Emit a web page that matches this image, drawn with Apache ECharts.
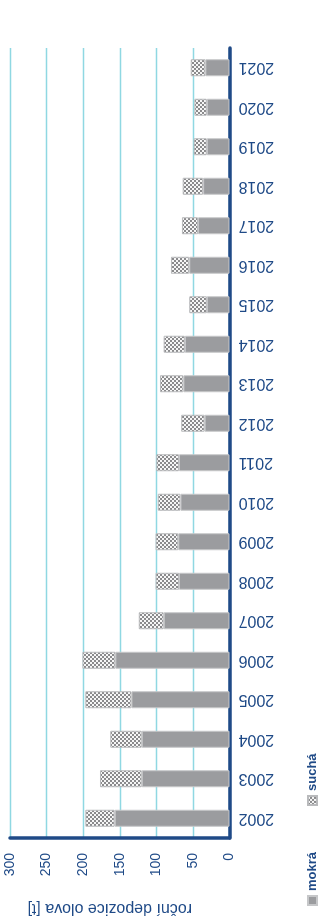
<!DOCTYPE html>
<html>
<head>
<meta charset="utf-8">
<script src="https://cdn.jsdelivr.net/npm/echarts@6/dist/echarts.min.js"></script>
<style>
  html, body { margin: 0; padding: 0; background: #fff; overflow: hidden; }
  body { width: 323px; height: 924px; position: relative; }
  /* the figure is a column chart turned a quarter turn counter-clockwise */
  #chart {
    position: absolute; left: 0; top: 0;
    width: 924px; height: 323px;
    transform-origin: 0 0;
    transform: translate(0, 924px) rotate(-90deg);
  }
</style>
</head>
<body>
<div id="chart"></div>
<script>
var years = ['2002', '2003', '2004', '2005', '2006', '2007', '2008', '2009', '2010', '2011',
             '2012', '2013', '2014', '2015', '2016', '2017', '2018', '2019', '2020', '2021'];
// wet deposition [t]
var mokra = [157, 120, 120, 134, 156, 90, 69, 70, 67, 69, 34, 63, 61, 31, 55, 43, 36, 31, 31, 33];
// dry deposition [t]
var sucha = [40, 57, 43, 63, 45, 34, 32, 31, 31, 31, 32, 32, 29, 24, 25, 22, 28, 18, 17, 20];
var valueTicks = [0, 50, 100, 150, 200, 250, 300];

var blue = '#1f4a87';
var gray = '#9b9c9f';

// small checker tile for the "suchá" fill
var tile = document.createElement('canvas');
tile.width = 4;
tile.height = 4;
var tctx = tile.getContext('2d');
tctx.fillStyle = '#f6f6f6';
tctx.fillRect(0, 0, 4, 4);
tctx.fillStyle = '#8a8a8c';
tctx.fillRect(0, 0, 2, 2);
tctx.fillRect(2, 2, 2, 2);

var chart = echarts.init(document.getElementById('chart'), null, { renderer: 'canvas' });

chart.setOption({
    animation: false,
    textStyle: { fontFamily: 'Liberation Sans, Arial, sans-serif' },
    grid: { left: 73, right: 48, top: 10, bottom: 93.5, containLabel: false },
    legend: {
        left: 13,
        top: 301,
        itemWidth: 9,
        itemHeight: 9,
        itemGap: 46,
        icon: 'rect',
        textStyle: { color: blue, fontSize: 13, fontWeight: 'bold' },
        data: ['mokrá', 'suchá']
    },
    xAxis: {
        type: 'category',
        data: years,
        axisLine: { show: true, lineStyle: { color: blue, width: 3.5 } },
        axisTick: { show: false },
        axisLabel: { rotate: 90, margin: 9, color: blue, fontSize: 16 },
        splitLine: { show: false }
    },
    yAxis: {
        type: 'value',
        min: valueTicks[0],
        max: valueTicks[valueTicks.length - 1],
        interval: 50,
        name: 'roční depozice olova [t]',
        nameLocation: 'middle',
        nameRotate: 90,
        nameGap: 62,
        nameTextStyle: { color: blue, fontSize: 16, padding: [0, 0, 0, 20] },
        axisLine: { show: true, lineStyle: { color: blue, width: 3.5 } },
        axisTick: { show: false },
        axisLabel: { color: blue, fontSize: 14, margin: 15 },
        splitLine: { lineStyle: { color: '#8fd8e2', width: 1.4 } }
    },
    series: [
        {
            name: 'mokrá',
            type: 'bar',
            stack: 'dep',
            barWidth: 17,
            data: mokra,
            itemStyle: { color: gray, borderColor: '#c6c7c9', borderWidth: 1 }
        },
        {
            name: 'suchá',
            type: 'bar',
            stack: 'dep',
            barWidth: 17,
            data: sucha,
            itemStyle: {
                color: { image: tile, repeat: 'repeat' },
                borderColor: '#b9babc',
                borderWidth: 1
            }
        }
    ]
});
</script>
</body>
</html>
